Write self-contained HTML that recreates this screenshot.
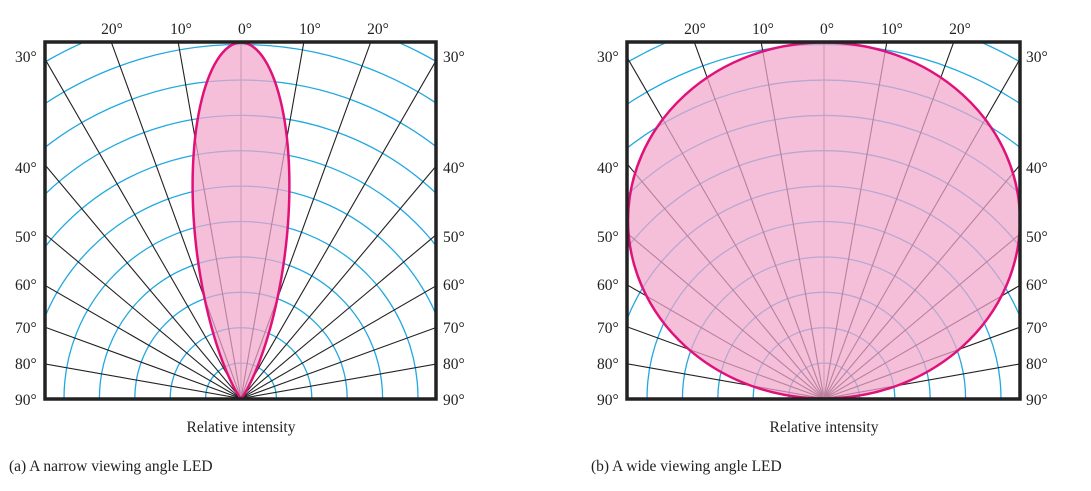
<!DOCTYPE html>
<html><head><meta charset="utf-8"><style>
html,body{margin:0;padding:0;background:#fff;width:1091px;height:491px;overflow:hidden}
svg{display:block}
svg text{font-family:"Liberation Serif",serif;font-size:15.5px;fill:#222}
</style></head><body>
<svg id="s" width="1091" height="491" viewBox="0 0 1091 491" xmlns="http://www.w3.org/2000/svg" style="overflow:hidden">
<svg x="45" y="42" width="391" height="357" viewBox="45 42 391 357" overflow="hidden"><g id="p1"></g></svg>
<svg x="627" y="42" width="393" height="357" viewBox="627 42 393 357" overflow="hidden"><g id="p2"></g></svg>
<rect x="45" y="42" width="391" height="357" fill="none" stroke="#222" stroke-width="3.5"/>
<rect x="627" y="42" width="393" height="357" fill="none" stroke="#222" stroke-width="3.5"/>
<g text-anchor="middle">
<text x="112" y="34">20°</text><text x="181" y="34">10°</text><text x="245" y="34">0°</text><text x="310" y="34">10°</text><text x="378" y="34">20°</text>
<text x="695" y="34">20°</text><text x="763" y="34">10°</text><text x="827" y="34">0°</text><text x="892" y="34">10°</text><text x="960" y="34">20°</text>
<text x="241" y="432">Relative intensity</text>
<text x="824" y="432">Relative intensity</text>
</g>
<g id="side"></g>
<text x="9" y="471">(a) A narrow viewing angle LED</text>
<text x="591" y="471">(b) A wide viewing angle LED</text>
</svg>
<script>
const NS="http://www.w3.org/2000/svg";
function el(p,t,a){const e=document.createElementNS(NS,t);for(const k in a)e.setAttribute(k,a[k]);p.appendChild(e);return e;}
const R=356,step=35.4;
function grid(g,ox,oy,x0,x1){
 for(let i=1;i<=11;i++){const r=step*i;
  el(g,'path',{d:`M${ox-r},${oy} A${r},${r} 0 0 1 ${ox+r},${oy}`,fill:'none',stroke:'#22a8e0','stroke-width':1.3});}
 for(let a=-90;a<=90;a+=10){const t=a*Math.PI/180;const L=300;
  el(g,'line',{x1:ox,y1:oy,x2:ox+L*Math.sin(t),y2:oy-L*Math.cos(t)*1.3,stroke:a==0?'#777':'#222','stroke-width':1.1});}
}
function grid2(g,ox,oy){
 for(let i=1;i<=11;i++){const r=step*i;
  el(g,'path',{d:`M${ox-r},${oy} A${r},${r} 0 0 1 ${ox+r},${oy}`,fill:'none',stroke:'#22a8e0','stroke-width':1.3});}
 for(let a=-90;a<=90;a+=10){const t=a*Math.PI/180;const L=400;
  el(g,'line',{x1:ox,y1:oy,x2:ox+L*Math.sin(t),y2:oy-L*Math.cos(t),stroke:a==0?'#777':'#222','stroke-width':1.1});}
}
const g1=document.getElementById('p1'),g2=document.getElementById('p2');
grid2(g1,241,398.5);grid2(g2,824,398.5);
let d='';const n=19.4;
for(let a=-90;a<=90;a+=0.5){const t=a*Math.PI/180;const r=R*Math.pow(Math.cos(t),n);
 d+=(d?'L':'M')+(241+r*Math.sin(t)).toFixed(2)+','+(398.5-r*Math.cos(t)).toFixed(2);}
el(g1,'path',{d:d+'Z',fill:'#f2a6cb','fill-opacity':0.72,stroke:'#e0127a','stroke-width':2.5});
el(g2,'ellipse',{cx:824,cy:220.5,rx:196,ry:178,fill:'#f2a6cb','fill-opacity':0.72,stroke:'#e0127a','stroke-width':2.5});
const side=document.getElementById('side');
const ys=[[30,62],[40,173],[50,242],[60,290],[70,333],[80,369],[90,405]];
for(const [v,y] of ys){
 for(const x of [15,443,597,1026]){const t=el(side,'text',{x:x,y:y});t.textContent=v+'°';}
}
</script>
</body></html>
